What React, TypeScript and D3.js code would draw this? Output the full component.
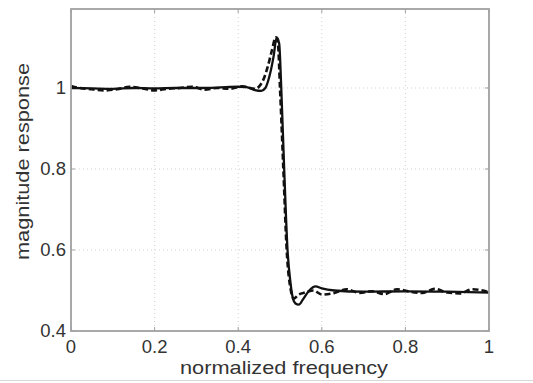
import React, { useRef, useEffect } from "react";
import * as d3 from "d3";

// solid curve (filter response)
const solidFreq = [0, 0.05, 0.1, 0.15, 0.2, 0.25, 0.3, 0.35, 0.4, 0.42, 0.44, 0.455, 0.465, 0.475, 0.485, 0.492, 0.498, 0.503, 0.51, 0.518, 0.525, 0.531, 0.537, 0.545, 0.555, 0.57, 0.585, 0.6, 0.63, 0.7, 0.8, 0.9, 1.0];
const solidMag = [1.0, 0.999, 0.998, 1.0, 0.999, 1.0, 1.0, 1.001, 1.003, 1.002, 0.995, 0.993, 1.0, 1.03, 1.08, 1.125, 1.11, 1.0, 0.8, 0.6, 0.52, 0.48, 0.468, 0.465, 0.478, 0.5, 0.51, 0.505, 0.5, 0.497, 0.498, 0.497, 0.495];

// dashed curve (target / measured)
const dashFreq = [0, 0.02, 0.05, 0.08, 0.11, 0.14, 0.17, 0.2, 0.23, 0.26, 0.29, 0.32, 0.35, 0.38, 0.41, 0.44, 0.46, 0.47, 0.48, 0.49, 0.495, 0.5, 0.508, 0.516, 0.526, 0.533, 0.545, 0.56, 0.58, 0.6, 0.63, 0.66, 0.69, 0.72, 0.75, 0.78, 0.81, 0.84, 0.87, 0.9, 0.93, 0.96, 1.0];
const dashMag = [1.005, 1.0, 0.997, 0.994, 0.997, 1.003, 0.999, 0.994, 0.998, 1.0, 1.003, 0.996, 1.0, 0.998, 1.004, 0.998, 1.02, 1.05, 1.09, 1.125, 1.11, 1.0, 0.8, 0.6, 0.5, 0.48, 0.49, 0.495, 0.5, 0.49, 0.494, 0.503, 0.494, 0.498, 0.491, 0.503, 0.497, 0.494, 0.504, 0.495, 0.493, 0.503, 0.496];

const xTicks = [0, 0.2, 0.4, 0.6, 0.8, 1];
const yTicks = [0.4, 0.6, 0.8, 1];

const drawChart = (svgRef) => {
  const width = 533,
    height = 383;
  const margin = { top: 9, right: 44, bottom: 52, left: 71 };
  const font = "'Liberation Sans', Arial, sans-serif";
  const axisColor = "#a0a0a0";
  const textColor = "#333";

  const svg = d3.select(svgRef.current);
  svg.selectAll("*").remove();
  svg.attr("width", width).attr("height", height);

  svg.append("rect").attr("width", width).attr("height", height).attr("fill", "white");
  // faint frame of the original screenshot
  svg.append("line").attr("x1", 0).attr("x2", width).attr("y1", 380.5).attr("y2", 380.5)
    .attr("stroke", "#d8d8d8");

  const x = d3.scaleLinear().domain([0, 1]).range([margin.left, width - margin.right]);
  const y = d3.scaleLinear().domain([0.4, 1.195]).range([height - margin.bottom, margin.top]);

  const x0 = x(0), x1 = x(1), y0 = y.range()[0], y1 = y.range()[1];

  // grid
  const grid = svg.append("g").attr("stroke", "#d2d2d2").attr("stroke-dasharray", "1,3");
  grid.selectAll("line.vx").data(xTicks.slice(1, -1)).enter().append("line")
    .attr("x1", (d) => x(d)).attr("x2", (d) => x(d)).attr("y1", y1).attr("y2", y0);
  grid.selectAll("line.hy").data(yTicks.slice(1)).enter().append("line")
    .attr("x1", x0).attr("x2", x1).attr("y1", (d) => y(d)).attr("y2", (d) => y(d));

  // inner tick marks on all four sides
  const ticks = svg.append("g").attr("stroke", axisColor).attr("stroke-width", 1);
  xTicks.forEach((t) => {
    ticks.append("line").attr("x1", x(t)).attr("x2", x(t)).attr("y1", y0).attr("y2", y0 - 4);
    ticks.append("line").attr("x1", x(t)).attr("x2", x(t)).attr("y1", y1).attr("y2", y1 + 4);
  });
  yTicks.forEach((t) => {
    ticks.append("line").attr("x1", x0).attr("x2", x0 + 4).attr("y1", y(t)).attr("y2", y(t));
    ticks.append("line").attr("x1", x1).attr("x2", x1 - 4).attr("y1", y(t)).attr("y2", y(t));
  });

  // curves
  const line = d3.line().x((d) => x(d[0])).y((d) => y(d[1])).curve(d3.curveMonotoneX);
  const solid = solidFreq.map((f, i) => [f, solidMag[i]]);
  const dashed = dashFreq.map((f, i) => [f, dashMag[i]]);

  svg.append("path").datum(dashed).attr("d", line).attr("fill", "none")
    .attr("stroke", "#111").attr("stroke-width", 2.6).attr("stroke-dasharray", "6,3");
  svg.append("path").datum(solid).attr("d", line).attr("fill", "none")
    .attr("stroke", "#111").attr("stroke-width", 2.3);

  // axes box
  svg.append("rect").attr("x", x0).attr("y", y1).attr("width", x1 - x0).attr("height", y0 - y1)
    .attr("fill", "none").attr("stroke", axisColor).attr("stroke-width", 1.8);

  // tick labels
  svg.append("g").selectAll("text").data(xTicks).enter().append("text")
    .attr("x", (d) => x(d)).attr("y", y0 + 22)
    .attr("text-anchor", "middle").attr("font-family", font).attr("font-size", 18.5).attr("fill", textColor)
    .text((d) => d3.format("~g")(d));

  svg.append("g").selectAll("text").data(yTicks).enter().append("text")
    .attr("x", x0 - 5).attr("y", (d) => y(d) + 6)
    .attr("text-anchor", "end").attr("font-family", font).attr("font-size", 18.5).attr("fill", textColor)
    .text((d) => d3.format("~g")(d));

  // axis titles
  svg.append("text").attr("x", 284).attr("y", 374)
    .attr("text-anchor", "middle").attr("font-family", font).attr("font-size", 18.5).attr("fill", textColor)
    .attr("textLength", 208).attr("lengthAdjust", "spacingAndGlyphs")
    .text("normalized frequency");

  svg.append("text").attr("transform", "translate(29, 161.5) rotate(-90)")
    .attr("text-anchor", "middle").attr("font-family", font).attr("font-size", 18.5).attr("fill", textColor)
    .attr("textLength", 197).attr("lengthAdjust", "spacingAndGlyphs")
    .text("magnitude response");
};

const App = () => {
  const svg = useRef(null);

  useEffect(() => {
    drawChart(svg);
  }, []);

  return (
    <div style={{ position: "absolute", left: 0, top: 0 }}>
      <svg ref={svg} style={{ display: "block" }} />
    </div>
  );
};

export default App;
